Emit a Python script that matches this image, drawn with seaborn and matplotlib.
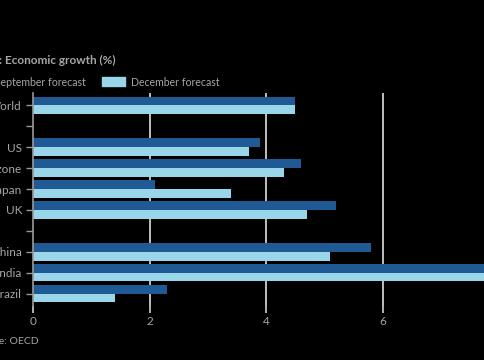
import matplotlib
matplotlib.use('Agg')
import numpy as np
import pandas as pd
import matplotlib.pyplot as plt
import seaborn as sns
from matplotlib.patches import Patch

# data (OECD 2022 growth forecasts)
countries = ["World", "US", "Eurozone", "Japan", "UK", "China", "India", "Brazil"]
sept_forecast = [4.5, 3.9, 4.6, 2.1, 5.2, 5.8, 7.9, 2.3]
dec_forecast = [4.5, 3.7, 4.3, 3.4, 4.7, 5.1, 8.1, 1.4]
row_order = ["World", " ", "US", "Eurozone", "Japan", "UK", "  ", "China", "India", "Brazil"]
series_names = ["September forecast", "December forecast"]
x_ticks = [0, 2, 4, 6]

df = pd.DataFrame({
    "country": countries * 2,
    "growth": sept_forecast + dec_forecast,
    "forecast": [series_names[0]] * len(countries) + [series_names[1]] * len(countries),
})

sns.set_style("dark")
plt.rcParams['font.family'] = ['Lato', 'DejaVu Sans']

bg = "#000000"
txt = "#a6a6a6"
colors = ["#1f5a95", "#99d6ea"]

fig = plt.figure(figsize=(4.85, 3.6), dpi=100, facecolor=bg)
ax = fig.add_axes([33 / 485, (360 - 306) / 360, 1 - 33 / 485, (306 - 93) / 360])
ax.set_facecolor(bg)

sns.barplot(data=df, x="growth", y="country", hue="forecast", order=row_order,
            hue_order=series_names, palette=colors, width=0.82, saturation=1,
            orient="h", ax=ax, legend=False, linewidth=0)

ax.set_xlim(0, (485 - 33) / 58.3)
ax.set_ylim(9.58, -0.58)
ax.set_xticks(x_ticks)
ax.set_xticklabels([str(t) for t in x_ticks])
ax.set_xlabel("")
ax.set_ylabel("")
ax.set_axisbelow(True)
ax.grid(False)
for t in x_ticks[1:]:
    ax.axvline(t, color="#cfcfcf", lw=1.3, zorder=0)

for s in ["top", "right", "bottom"]:
    ax.spines[s].set_visible(False)
ax.spines["left"].set_color("#9a9a9a")
ax.spines["left"].set_linewidth(1.2)

ax.tick_params(axis="y", length=5, width=1, color="#9a9a9a", pad=3,
               labelcolor=txt, labelsize=8.5, left=True)
ax.tick_params(axis="x", length=5, width=1.2, color="#cfcfcf", pad=2,
               labelcolor=txt, labelsize=8.5, bottom=True, direction="out")

# title, legend, source (cropped on the left like the reference)
fig.text(116 / 485, 1 - 60 / 360, "2022: Economic growth (%)", ha="right", va="center",
         color=txt, fontsize=8.5, fontweight="bold")

handles = [Patch(color=c) for c in colors]
leg = fig.legend(handles, series_names, ncol=2, loc="center right",
                 bbox_to_anchor=(228 / 485, 1 - 82 / 360), frameon=False,
                 fontsize=7.6, handlelength=2.1, handleheight=0.9,
                 handletextpad=0.6, columnspacing=1.6, borderpad=0.3)
for t in leg.get_texts():
    t.set_color(txt)

fig.text(39 / 485, 1 - 342 / 360, "Source: OECD", ha="right", va="center",
         color=txt, fontsize=7.5)

fig.savefig("out.png", dpi=100, facecolor=bg)
